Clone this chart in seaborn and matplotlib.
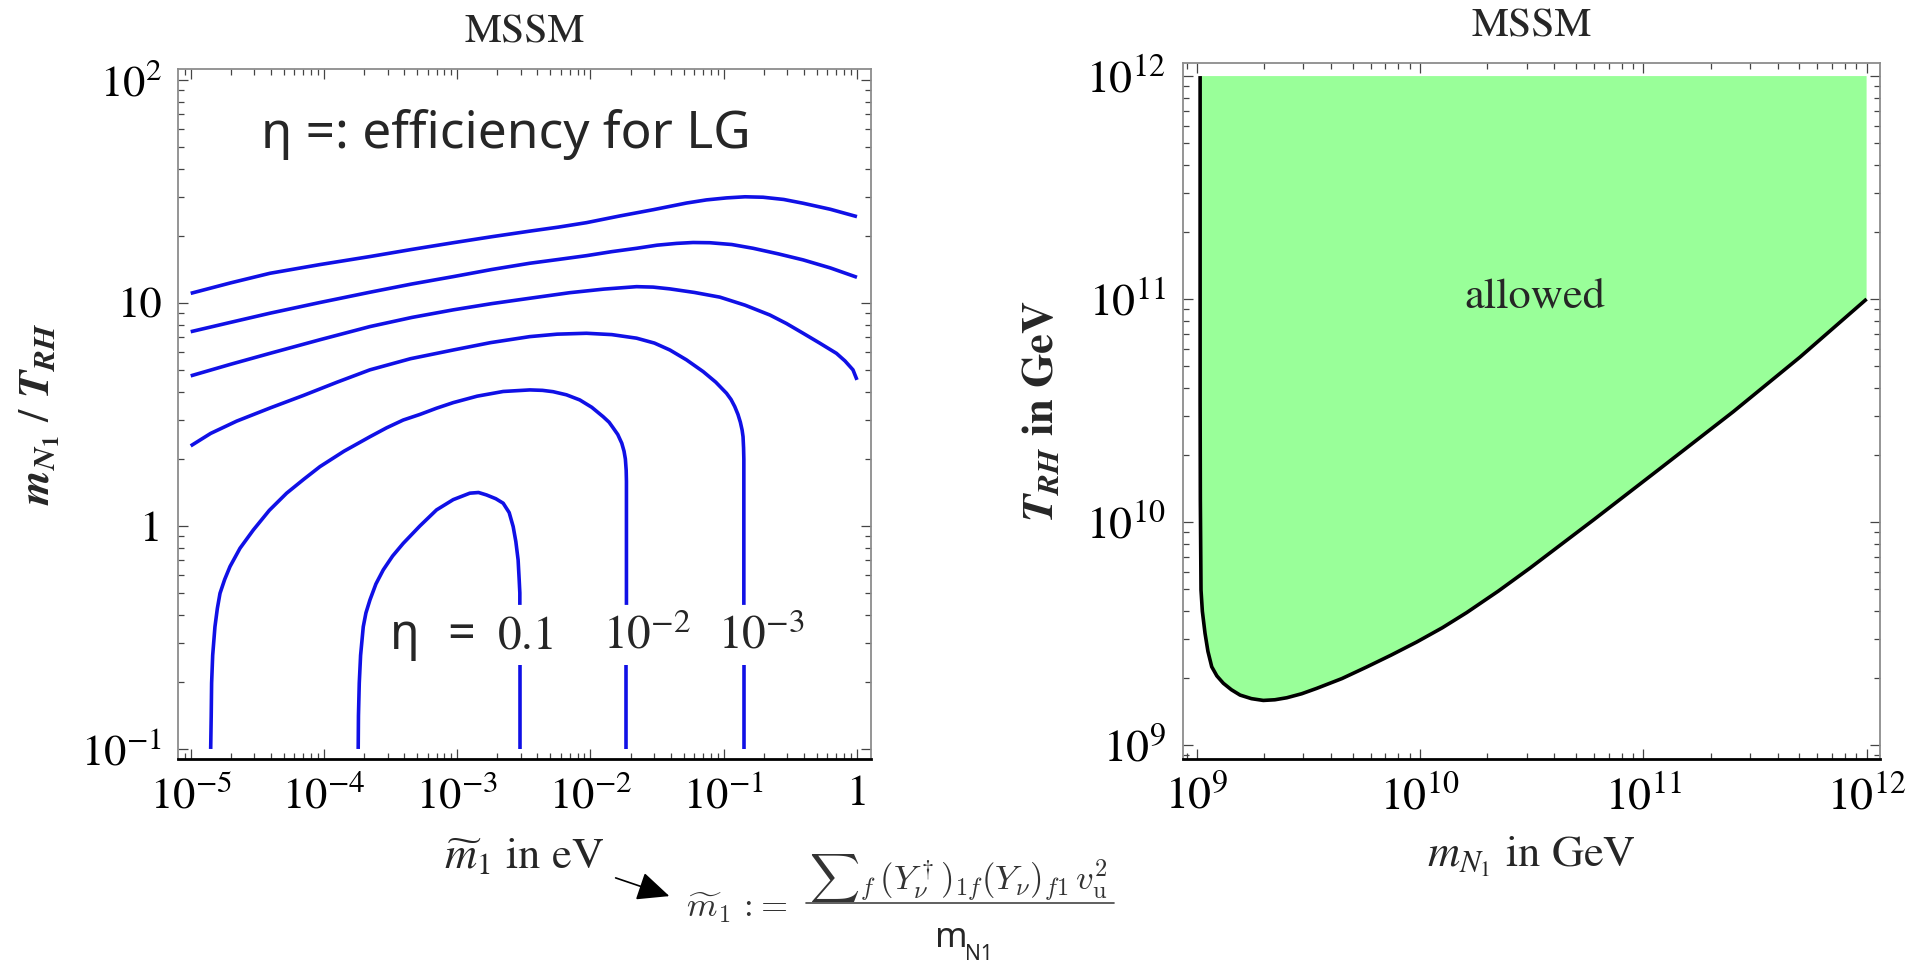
import numpy as np
import pandas as pd
import matplotlib
matplotlib.use("Agg")
import matplotlib.pyplot as plt
import seaborn as sns
from matplotlib.ticker import LogLocator, NullFormatter
from matplotlib.patches import FancyArrowPatch
from matplotlib.lines import Line2D

sns.set_style("ticks")
plt.rcParams["font.family"] = ["STIXGeneral", "DejaVu Sans"]
plt.rcParams["mathtext.fontset"] = "stix"

# ---------------- left panel: contours of the efficiency (log10 values) ----------------
# x: log10(m~1 / eV), y: log10(m_N1 / T_RH)
c1_lx = [-5.0, -4.7, -4.405, -4.03, -3.655, -3.34, -3.03, -2.74, -2.455, -2.24, -2.03, -1.78,
         -1.53, -1.279, -1.13, -0.979, -0.84, -0.705, -0.55, -0.404, -0.2, 0.0]
c1_ly = [1.043, 1.09, 1.133, 1.172, 1.208, 1.24, 1.270, 1.297, 1.322, 1.34, 1.36, 1.39,
         1.418, 1.448, 1.462, 1.471, 1.476, 1.474, 1.464, 1.447, 1.42, 1.387]

c2_lx = [-5.0, -4.7, -4.405, -4.03, -3.655, -3.34, -3.03, -2.74, -2.455, -2.24, -2.03, -1.84,
         -1.654, -1.50, -1.354, -1.23, -1.104, -0.94, -0.779, -0.59, -0.404, -0.2, 0.0]
c2_ly = [0.871, 0.913, 0.954, 1.002, 1.048, 1.085, 1.118, 1.15, 1.178, 1.195, 1.212, 1.23,
         1.245, 1.259, 1.267, 1.271, 1.270, 1.262, 1.245, 1.22, 1.193, 1.157, 1.115]

c3_lx = [-5.0, -4.7, -4.405, -4.03, -3.655, -3.34, -3.03, -2.74, -2.455, -2.155, -1.90, -1.654,
         -1.53, -1.404, -1.22, -1.029, -0.84, -0.654, -0.53, -0.404, -0.28, -0.154, -0.09,
         -0.03, 0.0]
c3_ly = [0.673, 0.725, 0.774, 0.835, 0.894, 0.935, 0.969, 0.997, 1.021, 1.046, 1.062, 1.073,
         1.071, 1.063, 1.047, 1.026, 0.99, 0.946, 0.908, 0.864, 0.82, 0.774, 0.74,
         0.70, 0.655]

# eta = 1e-3 contour, split around its label
c4_lx = [-5.0, -4.85, -4.655, -4.40, -4.155, -3.90, -3.655, -3.35, -3.03, -2.75, -2.455, -2.25,
         -2.03, -1.84, -1.654, -1.52, -1.404, -1.28, -1.154, -1.06, -0.979, -0.945, -0.917,
         -0.893, -0.875, -0.862, -0.855, -0.851, -0.849, -0.849]
c4_ly = [0.359, 0.415, 0.47, 0.53, 0.585, 0.645, 0.70, 0.75, 0.789, 0.822, 0.849, 0.860,
         0.864, 0.858, 0.842, 0.82, 0.789, 0.745, 0.692, 0.645, 0.595, 0.567, 0.535,
         0.50, 0.465, 0.43, 0.40, 0.35, 0.30, -0.354]
c4b_lx = [-0.849, -0.849]
c4b_ly = [-0.623, -1.0]

# eta = 1e-2 contour
c5_lx = [-4.85, -4.846, -4.843, -4.835, -4.818, -4.80, -4.78, -4.745, -4.705, -4.63, -4.53,
         -4.41, -4.28, -4.15, -4.03, -3.85, -3.655, -3.53, -3.405, -3.28, -3.155, -3.03,
         -2.85, -2.655, -2.455, -2.36, -2.28, -2.18, -2.08, -1.99, -1.905, -1.86, -1.83,
         -1.795, -1.765, -1.748, -1.738, -1.732, -1.73, -1.73]
c5_ly = [-1.0, -0.85, -0.705, -0.58, -0.452, -0.37, -0.302, -0.24, -0.182, -0.10, -0.018,
         0.07, 0.147, 0.21, 0.266, 0.335, 0.40, 0.44, 0.475, 0.50, 0.528, 0.553,
         0.582, 0.603, 0.610, 0.608, 0.602, 0.588, 0.565, 0.532, 0.49, 0.465, 0.44,
         0.41, 0.371, 0.335, 0.30, 0.25, 0.2, -0.354]
c5b_lx = [-1.73, -1.73]
c5b_ly = [-0.623, -1.0]

# eta = 0.1 contour
c6_lx = [-3.743, -3.741, -3.735, -3.725, -3.705, -3.685, -3.655, -3.61, -3.555, -3.485, -3.405,
         -3.28, -3.155, -3.03, -2.905, -2.84, -2.78, -2.71, -2.655, -2.61, -2.58, -2.56,
         -2.543, -2.535, -2.53, -2.53]
c6_ly = [-1.0, -0.85, -0.705, -0.58, -0.452, -0.39, -0.332, -0.26, -0.197, -0.135, -0.078,
         0.0, 0.072, 0.118, 0.147, 0.150, 0.139, 0.122, 0.102, 0.06, -0.003, -0.07,
         -0.152, -0.24, -0.30, -0.354]
c6b_lx = [-2.53, -2.53]
c6b_ly = [-0.623, -1.0]

eta_labels = [r"$0.1$", r"$10^{-2}$", r"$10^{-3}$"]
eta_label_lx = [-2.704, -1.907, -1.042]
eta_label_ly = -0.55

left_xticks = [1e-5, 1e-4, 1e-3, 1e-2, 1e-1, 1.0]
left_xticklabels = [r"$10^{-5}$", r"$10^{-4}$", r"$10^{-3}$", r"$10^{-2}$", r"$10^{-1}$", "1"]
left_yticks = [0.1, 1.0, 10.0, 100.0]
left_yticklabels = [r"$10^{-1}$", "1", "10", r"$10^{2}$"]

# ---------------- right panel: allowed region boundary (log10 values) ----------------
bound_lx = [9.015, 9.015, 9.015, 9.016, 9.019, 9.025, 9.037, 9.05, 9.067, 9.09, 9.119, 9.155,
            9.194, 9.245, 9.298, 9.35, 9.403, 9.47, 9.537, 9.65, 9.761, 9.87, 9.985, 10.1,
            10.209, 10.35, 10.493, 10.78, 11.075, 11.403, 11.702, 12.0]
bound_ly = [12.0, 11.0, 10.547, 10.1, 9.695, 9.6, 9.501, 9.42, 9.351, 9.31, 9.277, 9.248,
            9.224, 9.208, 9.200, 9.203, 9.212, 9.23, 9.254, 9.298, 9.35, 9.403, 9.462, 9.526,
            9.594, 9.690, 9.794, 10.012, 10.24, 10.495, 10.74, 11.0]
region_top = 1e12
region_right = 1e12

right_ticks = [1e9, 1e10, 1e11, 1e12]
right_ticklabels = [r"$10^{9}$", r"$10^{10}$", r"$10^{11}$", r"$10^{12}$"]

BLUE = "#1010e6"
GREEN = "#99ff99"
W, H = 1920, 963

fig = plt.figure(figsize=(W / 100, H / 100), dpi=100)
fig.patch.set_facecolor("white")


def fx(px):
    return px / W


def fy(py):
    return 1 - py / H


ax1 = fig.add_axes([fx(178.3), fy(759), 692.4 / W, 690 / H])
ax2 = fig.add_axes([fx(1182.7), fy(759.3), 697.3 / W, 696.6 / H])

for ax in (ax1, ax2):
    ax.set_xscale("log")
    ax.set_yscale("log")
    ax.set_facecolor("white")


def draw(ax, lx, ly, color, lw):
    df = pd.DataFrame({"x": 10 ** np.asarray(lx), "y": 10 ** np.asarray(ly)})
    sns.lineplot(data=df, x="x", y="y", sort=False, estimator=None, color=color,
                 lw=lw, ax=ax, legend=False, solid_joinstyle="round", solid_capstyle="butt")


for lx, ly in [(c1_lx, c1_ly), (c2_lx, c2_ly), (c3_lx, c3_ly), (c4_lx, c4_ly), (c4b_lx, c4b_ly),
               (c5_lx, c5_ly), (c5b_lx, c5b_ly), (c6_lx, c6_ly), (c6b_lx, c6b_ly)]:
    draw(ax1, lx, ly, BLUE, 2.6)

for txt, lx in zip(eta_labels, eta_label_lx):
    ax1.text(10 ** lx, 10 ** eta_label_ly, txt, fontsize=34, ha="left", va="baseline")
ax1.text(10 ** -3.392, 10 ** eta_label_ly, "η", family=["Noto Sans", "DejaVu Sans"],
         fontsize=35, ha="center", va="baseline")
ax1.text(10 ** -2.972, 10 ** eta_label_ly, "=", family=["Noto Sans", "DejaVu Sans"],
         fontsize=35, ha="center", va="baseline")
ax1.text(0.473, 0.886, "η =: efficiency for LG", transform=ax1.transAxes,
         family=["Noto Sans", "DejaVu Sans"], fontsize=37, ha="center", va="baseline")

ax1.set_xlim(10 ** -5.093, 10 ** 0.103)
ax1.set_ylim(10 ** -1.045, 10 ** 2.049)
ax1.set_xticks(left_xticks, labels=left_xticklabels)
ax1.set_yticks(left_yticks, labels=left_yticklabels)

# right panel
bx = list(10 ** np.asarray(bound_lx))
by = list(10 ** np.asarray(bound_ly))
ax2.fill(bx + [region_right], by + [region_top], color=GREEN, lw=0, zorder=1)
draw(ax2, bound_lx, bound_ly, "black", 2.6)
ax2.text(10 ** 10.515, 10 ** 10.96, "allowed", fontsize=32, ha="center", va="baseline")
ax2.set_xlim(10 ** 8.937, 10 ** 12.06)
ax2.set_ylim(10 ** 8.936, 10 ** 12.06)
ax2.set_xticks(right_ticks, labels=right_ticklabels)
ax2.set_yticks(right_ticks, labels=right_ticklabels)

for ax, lsize in ((ax1, 32), (ax2, 33)):
    for axis in (ax.xaxis, ax.yaxis):
        axis.set_minor_locator(LogLocator(base=10, subs=np.arange(2, 10), numticks=100))
        axis.set_minor_formatter(NullFormatter())
    ax.tick_params(which="both", direction="in", top=True, right=True, color="#444444",
                   width=0.9, labelsize=lsize, labelcolor="black")
    ax.tick_params(which="major", length=7, pad=12)
    ax.tick_params(which="minor", length=4)
    for side in ("left", "top", "right"):
        ax.spines[side].set_color("#8c8c8c")
        ax.spines[side].set_linewidth(1.3)
    ax.spines["bottom"].set_color("black")
    ax.spines["bottom"].set_linewidth(2.0)
    ax.set_title("MSSM", fontsize=30, pad=19)

ax1.set_xlabel(r"$\widetilde{m}_1$ in eV", fontsize=32)
ax1.xaxis.set_label_coords(0.5, -0.113)
ax1.set_ylabel(r"$\mathbfit{m}_{\mathbfit{N}_{\mathbf{1}}}\ /\ \mathbfit{T}_{\mathbfit{RH}}$", fontsize=32)
ax1.yaxis.set_label_coords(-0.168, 0.5)

ax2.set_xlabel(r"$m_{N_1}$ in GeV", fontsize=32)
ax2.xaxis.set_label_coords(0.5, -0.109)
ax2.set_ylabel(r"$\mathbfit{T}_{\mathbfit{RH}}$ in GeV", fontsize=32, fontweight="bold")
ax2.yaxis.set_label_coords(-0.173, 0.5)

# definition of m~1 under the left panel
fig.add_artist(FancyArrowPatch((fx(613), fy(877)), (fx(672), fy(897)), transform=fig.transFigure,
                               arrowstyle="-|>,head_length=1.0,head_width=0.45",
                               mutation_scale=20, color="black", lw=1.2))
fig.text(fx(686), fy(917), r"$\widetilde{m}_1\,{:}\!{=}$", math_fontfamily="cm", fontsize=25,
         ha="left", va="baseline", color="#333333")
fig.text(fx(958), fy(890), r"${\sum}_f\,(Y_\nu^\dagger)_{1f}(Y_\nu)_{f1}\, v_\mathrm{u}^2$",
         math_fontfamily="cm", fontsize=25, ha="center", va="baseline", color="#333333")
fig.add_artist(Line2D([fx(806), fx(1114)], [fy(903), fy(903)], transform=fig.transFigure,
                      color="#444444", lw=1.2))
fig.text(fx(935), fy(947), "m", family=["Noto Sans", "DejaVu Sans"], fontsize=25,
         ha="left", va="baseline")
fig.text(fx(965), fy(960), "N1", family=["Noto Sans", "DejaVu Sans"], fontsize=15,
         ha="left", va="baseline")

fig.savefig("out.png", dpi=100, facecolor="white")
